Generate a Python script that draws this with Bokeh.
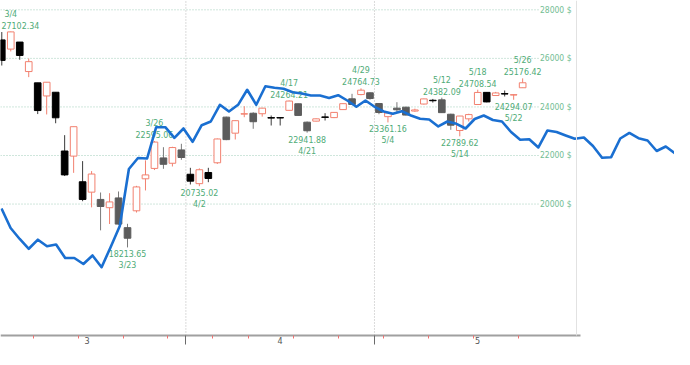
from datetime import date
from bokeh.plotting import figure
from bokeh.models import Range1d, LinearAxis, FixedTicker
from bokeh.core.properties import value
from bokeh.embed import file_html
from bokeh.resources import INLINE

# ---------------- data ----------------
dates = ["3/3", "3/4", "3/5", "3/6", "3/9", "3/10", "3/11", "3/12", "3/13", "3/16",
         "3/17", "3/18", "3/19", "3/20", "3/23", "3/24", "3/25", "3/26", "3/27", "3/30",
         "3/31", "4/1", "4/2", "4/3", "4/6", "4/7", "4/8", "4/9", "4/13", "4/14",
         "4/15", "4/16", "4/17", "4/20", "4/21", "4/22", "4/23", "4/24", "4/27", "4/28",
         "4/29", "4/30", "5/1", "5/4", "5/5", "5/6", "5/7", "5/8", "5/11", "5/12",
         "5/13", "5/14", "5/15", "5/18", "5/19", "5/20", "5/21", "5/22", "5/26"]
opens = [26762, 26383, 26672, 25457, 24992, 24453, 24605, 22185, 21974, 20918,
         20490, 20190, 19850, 20253, 19028, 19722, 21040, 21468, 21900, 21680,
         22230, 21227, 20840, 21300, 21700, 23580, 22920, 23705, 23740, 23720,
         23560, 23560, 23860, 24130, 23372, 23415, 23590, 23560, 23890, 24334,
         24510, 24582, 24140, 23600, 23950, 23990, 23830, 24120, 24275, 24292,
         23700, 23030, 23510, 24100, 24600, 24470, 24550, 24490, 24790]
highs = [27085, 27102.34, 26672, 25994, 24992, 25021, 24605, 22838, 23186, 21768,
         21357, 20476, 20448, 20517, 19187, 20750, 21800, 22595.06, 22342, 22360,
         22482, 21493, 21470, 21493, 22700, 23600, 23450, 24030, 23780, 23960,
         23647, 23580, 24264.21, 24140, 23400, 23530, 23743, 23790, 24150, 24540,
         24764.73, 24600, 24150, 23760, 24196, 24000, 23930, 24340, 24330, 24382.09,
         23720, 23630, 23720, 24708.54, 24610, 24620, 24677, 24520, 25176.42]
lows = [25706, 26286, 25943, 25227, 23706, 23690, 23328, 21154, 21285, 20116,
        19864, 18917, 19177, 19150, 18213.65, 19650, 20560, 21400, 21452, 21547,
        21823, 20806, 20735.02, 20900, 21650, 22630, 22659, 23577, 23100, 23600,
        23235, 23235, 23850, 23647, 22941.88, 23400, 23441, 23540, 23880, 24090,
        24480, 24300, 23700, 23361.16, 23784, 23650, 23800, 24100, 24180, 23760,
        23058, 22789.62, 23400, 24100, 24190, 24460, 24430, 24294.07, 24780]
closes = [25917, 27091, 26121, 25865, 23851, 25018, 23553, 21201, 23186, 20189,
          21237, 19899, 20087, 19174, 18592, 20705, 21201, 22552, 21637, 22327,
          21917, 20944, 21413, 21053, 22680, 22654, 23434, 23720, 23391, 23950,
          23540, 23545, 24242, 23650, 23019, 23510, 23570, 23775, 24134, 24102,
          24690, 24346, 23770, 23750, 23883, 23665, 23876, 24331, 24255, 23765,
          23248, 23625, 23685, 24597, 24207, 24576, 24530, 24505, 24995]
candle_kind = ["black", "up", "black", "up", "black", "up", "black", "black", "up", "black",
               "up", "gray", "up", "gray", "gray", "up", "up", "up", "gray", "up",
               "gray", "black", "up", "black", "up", "gray", "up", "up", "gray", "up",
               "black", "black", "up", "gray", "gray", "up", "black", "up", "up", "gray",
               "up", "gray", "gray", "up", "gray", "gray", "up", "up", "black", "gray",
               "gray", "up", "up", "up", "black", "up", "black", "up", "up"]

high_marks = ["3/4", "3/26", "4/17", "4/29", "5/12", "5/18", "5/26"]
low_marks = ["3/23", "4/2", "4/21", "5/4", "5/14", "5/22"]

# second series (blue line), one value per step
line_values = [19817, 19014, 18561, 18157, 18532, 18260, 18334, 17778, 17778, 17531,
               17881, 17399, 18231, 19096, 21444, 21897, 21876, 23166, 23166, 22729,
               23112, 22564, 23248, 23400, 24088, 23812, 24088, 24706, 24088, 24854,
               24789, 24747, 24607, 24554, 24471, 24471, 24368, 24484, 24265, 24006,
               24265, 24006, 23812, 23718, 23825, 23648, 23512, 23483, 23195, 23400,
               23306, 23112, 23503, 23648, 23462, 23400, 22968, 22647, 22671, 22330,
               23030, 22968, 22824, 22688, 22741, 22391, 21905, 21930, 22700, 22927,
               22713, 22618, 22185, 22371, 22095, 22350, 22082]

y_ticks = [20000, 22000, 24000, 26000, 28000]
month_labels = ["3", "4", "5"]
trading_days_before_first = 1   # 3/2 was a trading day not shown
YEAR = 2020

# ---------------- layout helpers ----------------
W, H = 674, 349
X0, X1 = -0.143, 74.91          # candle index range
K0, K1 = -0.11, 73.96           # line step range
Y0, Y1 = 14009, 28384
AXIS_Y = 14586
AXIS_END = 64.45
YAXIS_X = 64.0
GRID_END = 59.77

FONT = "'DejaVu Sans Condensed', 'Liberation Sans Narrow', sans-serif"
UP = "#f2806f"
BODY_FILL = {"up": "white", "black": "#000000", "gray": "#5c5c5c"}
BODY_LINE = {"up": UP, "black": "#000000", "gray": "#5c5c5c"}
WICK = {"up": UP, "black": "#3a3a3a", "gray": "#7a7a7a"}
LABEL_GREEN = "#4fab77"

xs = list(range(len(dates)))
pos = {d: i for i, d in enumerate(dates)}
parsed = [date(YEAR, int(d.split("/")[0]), int(d.split("/")[1])) for d in dates]

month_bounds = [i - 0.5 for i in range(1, len(dates)) if parsed[i].month != parsed[i - 1].month]
week_bounds = [i - 0.5 for i in range(1, len(dates))
               if parsed[i].isocalendar()[1] != parsed[i - 1].isocalendar()[1]]
span_edges = [-0.5 - trading_days_before_first] + month_bounds + [AXIS_END]
month_centers = [(span_edges[j] + span_edges[j + 1]) / 2 for j in range(len(month_labels))]


def screen_x(i):
    return (i - X0) / (X1 - X0) * W


p = figure(width=W, height=H, x_range=Range1d(X0, X1), y_range=Range1d(Y0, Y1),
           output_backend="svg", toolbar_location=None,
           x_axis_location=None, y_axis_location=None, min_border=0,
           outline_line_color=None, background_fill_color="white", border_fill_color="white")
p.grid.grid_line_color = None
p.extra_x_ranges = {"line": Range1d(K0, K1)}

# horizontal dotted grid lines (stop before the price labels)
p.segment(x0=[X0] * len(y_ticks), x1=[GRID_END] * len(y_ticks), y0=y_ticks, y1=y_ticks,
          line_color="#9fcdb9", line_width=1, line_dash="1 2")
# vertical dotted month grid lines
p.segment(x0=month_bounds, x1=month_bounds, y0=[AXIS_Y] * len(month_bounds),
          y1=[Y1] * len(month_bounds), line_color="#b5b5b5", line_width=1, line_dash="1 2")

# candles
p.segment(x0=xs, x1=xs, y0=lows, y1=highs, line_color=[WICK[k] for k in candle_kind], line_width=1)
p.vbar(x=xs, width=0.74,
       top=[max(o, c) for o, c in zip(opens, closes)],
       bottom=[min(o, c) for o, c in zip(opens, closes)],
       fill_color=[BODY_FILL[k] for k in candle_kind],
       line_color=[BODY_LINE[k] for k in candle_kind], line_width=1)

# high / low annotations
hx = [pos[d] for d in high_marks]
hy = [highs[pos[d]] for d in high_marks]
lx = [pos[d] for d in low_marks]
ly = [lows[pos[d]] for d in low_marks]
HALF = 16  # approx half width of a value text in px


def aligns(xlist):
    al, off = [], []
    for i in xlist:
        sx = screen_x(i)
        if sx < HALF:
            al.append("left")
            off.append(1 - sx)
        else:
            al.append("center")
            off.append(0)
    return al, off


common = dict(text_font=value(FONT), text_font_size="8.8px", text_color=LABEL_GREEN)
ha, ho = aligns(hx)
la, lo = aligns(lx)
p.text(x=hx, y=hy, text=[f"{v:.2f}" for v in hy], text_baseline="bottom", y_offset=-3,
       text_align=ha, x_offset=ho, **common)
p.text(x=hx, y=hy, text=high_marks, text_baseline="bottom", y_offset=-13,
       text_align="center", **common)
p.text(x=lx, y=ly, text=[f"{v:.2f}" for v in ly], text_baseline="top", y_offset=3,
       text_align=la, x_offset=lo, **common)
p.text(x=lx, y=ly, text=low_marks, text_baseline="top", y_offset=13,
       text_align="center", **common)

# blue line series
p.line(x=list(range(len(line_values))), y=line_values, x_range_name="line",
       line_color="#1a6fd1", line_width=2.6, line_join="round")

# price axis (inside the chart, labels to the left of its line)
yaxis = LinearAxis(fixed_location=YAXIS_X, ticker=FixedTicker(ticks=y_ticks),
                   major_label_overrides={t: f"{t} $" for t in y_ticks},
                   axis_line_color="#e2e2e2", axis_line_width=1,
                   major_tick_out=0, major_tick_in=0, minor_tick_out=0, minor_tick_in=0,
                   major_label_standoff=5, major_label_text_font=FONT,
                   major_label_text_font_size="8.5px", major_label_text_color="#72bd93",
                   bounds=(AXIS_Y, Y1))
p.add_layout(yaxis, "left")

# date axis: ticks at month boundaries, minor ticks at week boundaries
xaxis = LinearAxis(fixed_location=AXIS_Y,
                   ticker=FixedTicker(ticks=month_bounds, minor_ticks=week_bounds),
                   major_label_overrides={t: "" for t in month_bounds},
                   axis_line_color="#a0a0a0", axis_line_width=2,
                   major_tick_out=9, major_tick_in=0, major_tick_line_color="#6a6a6a",
                   minor_tick_out=3, minor_tick_in=0, minor_tick_line_color="#f07070",
                   bounds=(X0, AXIS_END))
p.add_layout(xaxis, "below")

# month names centred in each month, just under the date axis
p.text(x=month_centers, y=[AXIS_Y] * len(month_centers), text=month_labels,
       text_baseline="top", y_offset=2, text_align="center",
       text_font=value(FONT), text_font_size="9px", text_color="#555555")

open("out.html", "w").write(file_html(p, INLINE))
